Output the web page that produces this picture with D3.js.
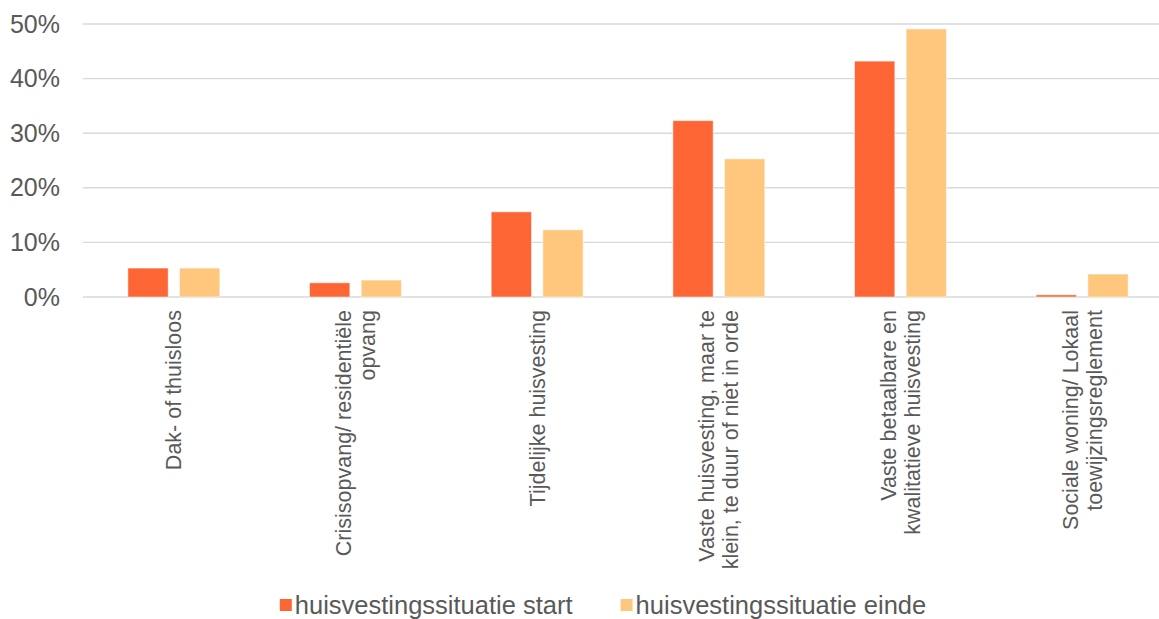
<!DOCTYPE html>
<html>
<head>
<meta charset="utf-8">
<script src="https://cdn.jsdelivr.net/npm/d3@7"></script>
<style>
  html, body { margin: 0; padding: 0; background: #fff; }
  svg { display: block; }
  text { font-family: "Liberation Sans", Arial, sans-serif; fill: #595959; }
</style>
</head>
<body>
<svg id="chart" width="1159" height="619"></svg>
<script>
const categories = [
  ["Dak- of thuisloos"],
  ["Crisisopvang/ residentiële", "opvang"],
  ["Tijdelijke huisvesting"],
  ["Vaste huisvesting, maar te", "klein, te duur of niet in orde"],
  ["Vaste betaalbare en", "kwalitatieve huisvesting"],
  ["Sociale woning/ Lokaal", "toewijzingsreglement"]
];
const seriesNames = ["huisvestingssituatie start", "huisvestingssituatie einde"];
const startValues = [0.053, 0.026, 0.156, 0.323, 0.432, 0.004];
const eindeValues = [0.053, 0.031, 0.123, 0.253, 0.491, 0.042];
const yTicks = [0, 0.1, 0.2, 0.3, 0.4, 0.5];
const colors = ["#FD6535", "#FFC77D"];

const svg = d3.select("#chart");
const plotLeft = 83, plotRight = 1173, plotTop = 24, plotBottom = 297;

const catIdx = categories.map((d, i) => i);
const x = d3.scaleBand().domain(catIdx).range([plotLeft, plotRight])
  .paddingInner(0.494).paddingOuter(0.247);
const xs = d3.scaleBand().domain([0, 1]).range([0, x.bandwidth()]).paddingInner(0.22);
const y = d3.scaleLinear().domain([0, 0.5]).range([plotBottom, plotTop]);

// gridlines
svg.append("g").selectAll("line").data(yTicks).join("line")
  .attr("x1", plotLeft).attr("x2", 1159)
  .attr("y1", d => y(d)).attr("y2", d => y(d))
  .attr("stroke", "#d9d9d9").attr("stroke-width", 1.4);

// y axis labels
const yAxis = d3.axisLeft(y).tickValues(yTicks).tickFormat(d3.format(".0%")).tickSize(0).tickPadding(23);
const yg = svg.append("g").attr("transform", `translate(${plotLeft},0)`).call(yAxis);
yg.select(".domain").remove();
yg.selectAll("text").style("font-size", "25px").attr("fill", "#595959")
  .style("font-family", "'Liberation Sans', Arial, sans-serif");

// bars
const series = [startValues, eindeValues];
const groups = svg.append("g").selectAll("g").data(catIdx).join("g")
  .attr("transform", d => `translate(${x(d)},0)`);
groups.selectAll("rect").data(i => series.map((s, k) => ({k, v: s[i]}))).join("rect")
  .attr("x", d => xs(d.k)).attr("width", xs.bandwidth())
  .attr("y", d => y(d.v)).attr("height", d => y(0) - y(d.v))
  .attr("fill", d => colors[d.k])
  .attr("stroke", "#ffffff").attr("stroke-opacity", 0.5).attr("stroke-width", 1);

// category labels (rotated)
const lineGap = 24;
categories.forEach((lines, i) => {
  const cx = x(i) + x.bandwidth() / 2;
  lines.forEach((t, j) => {
    const off = (j - (lines.length - 1) / 2) * lineGap;
    svg.append("text")
      .attr("transform", `translate(${cx + off},310) rotate(-90)`)
      .attr("text-anchor", "end")
      .attr("dy", "0.35em")
      .style("font-size", "21.5px")
      .text(t);
  });
});

// legend
const legend = svg.append("g");
const sq = 12, gapText = 3, itemGap = 48;
let xpos = 0;
seriesNames.forEach((name, k) => {
  const g = legend.append("g");
  g.append("rect").attr("x", xpos).attr("y", 599).attr("width", sq).attr("height", sq).attr("fill", colors[k]);
  const t = g.append("text").attr("x", xpos + sq + gapText).attr("y", 614)
    .style("font-size", "25.5px").text(name);
  const w = t.node().getComputedTextLength();
  xpos += sq + gapText + w + itemGap;
});
const totalW = xpos - itemGap;
legend.attr("transform", `translate(${603 - totalW / 2},0)`);
</script>
</body>
</html>
